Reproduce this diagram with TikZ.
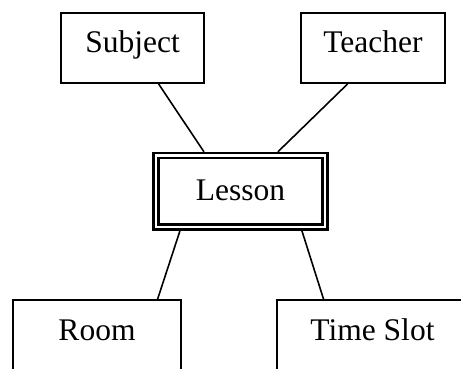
\documentclass[tikz,border=0pt]{standalone}
\usepackage{fontspec}
\setmainfont{Liberation Serif}
\usetikzlibrary{calc}
\begin{document}
\begin{tikzpicture}[x=1pt,y=-1pt,
  ent/.style={draw, line width=1.8pt, inner sep=0pt, minimum height=70pt,
    text height=16pt, text depth=6pt, font=\fontsize{31.5}{36}\selectfont},
  weak/.style={ent, double, line width=2.5pt, double distance=2.5pt,
    minimum height=71.5pt, text height=19.4pt, text depth=2pt, outer sep=3.75pt},
  link/.style={line width=1.6pt}]
\useasboundingbox (0,0) rectangle (461,369);
\clip (0,0) rectangle (461,369);
\node[ent, minimum width=143pt] (Subject) at (132.5,48) {Subject};
\node[ent, minimum width=144pt] (Teacher) at (373,48) {Teacher};
\node[weak, minimum width=169pt] (Lesson) at (240.5,191.3) {Lesson};
\node[ent, minimum width=168pt] (Room) at (97,335) {Room};
\node[ent, minimum width=191pt] (TimeSlot) at (372.5,335) {Time Slot};
\draw[link] ($(Subject.south west)!0.68!(Subject.south east)$) -- ($(Lesson.north west)!0.293!(Lesson.north east)$);
\draw[link] ($(Teacher.south west)!0.326!(Teacher.south east)$) -- ($(Lesson.north west)!0.712!(Lesson.north east)$);
\draw[link] ($(Lesson.south west)!0.157!(Lesson.south east)$) -- ($(Room.north west)!0.857!(Room.north east)$);
\draw[link] ($(Lesson.south west)!0.848!(Lesson.south east)$) -- ($(TimeSlot.north west)!0.246!(TimeSlot.north east)$);
\end{tikzpicture}
\end{document}
